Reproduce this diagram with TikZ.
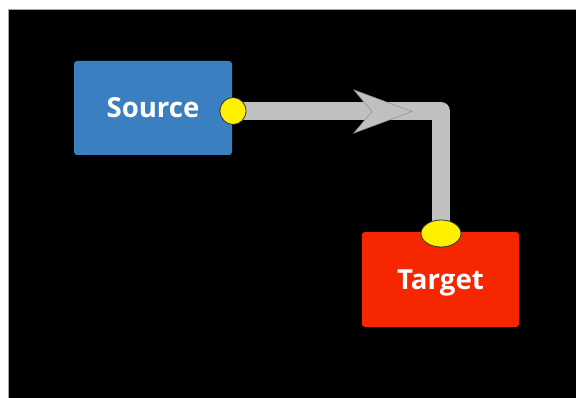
\documentclass[tikz,border=0pt]{standalone}
\usepackage{fontspec}
\setmainfont{Open Sans}
\usetikzlibrary{positioning,calc,shapes.geometric}
\definecolor{srcblue}{RGB}{58,127,191}
\definecolor{tgtred}{RGB}{245,38,0}
\definecolor{pipegray}{RGB}{192,192,192}
\definecolor{pipeedge}{RGB}{150,150,150}
\definecolor{portyellow}{RGB}{255,240,0}
\tikzset{
  box/.style={rounded corners=3pt, minimum width=158pt, minimum height=94pt, inner sep=0pt,
    text height=19.5pt, text depth=0pt,
    text=white, font=\fontsize{27.6}{32}\selectfont\bfseries},
  port/.style={ellipse, fill=portyellow, draw=black!80, line width=0.8pt, inner sep=0pt},
  pipe/.style={draw=pipegray, line width=18pt, line join=round},
  chevron/.style={fill=pipegray, draw=pipeedge, line width=0.6pt, line join=miter},
}
\begin{document}
\begin{tikzpicture}[x=1pt,y=-1pt]
\useasboundingbox (0,0) rectangle (576,398);
\fill[white] (0,0) rectangle (576,398);
\fill[gray!70] (8,9) rectangle (576,398);
\fill[black] (9,10) rectangle (576,398);
\node[box, fill=srcblue] (src) at (153,108) {Source};
\node[box, fill=tgtred, minimum width=157pt, minimum height=95pt] (tgt) at (440.5,279.5) {Target};
\coordinate (sp) at (233,111);
\coordinate (tp) at (441,233.5);
\draw[pipe] (sp) -| (tp);
\coordinate (tip) at (412,111.5);
\filldraw[chevron] (tip) -- ++(-58,-21.5) -- ++(18,21.5) -- ++(-18,21.5) -- cycle;
\node[port, minimum width=26pt, minimum height=27pt] (spn) at (sp) {};
\node[port, minimum width=40pt, minimum height=27pt] (tpn) at (tp) {};
\end{tikzpicture}
\end{document}
